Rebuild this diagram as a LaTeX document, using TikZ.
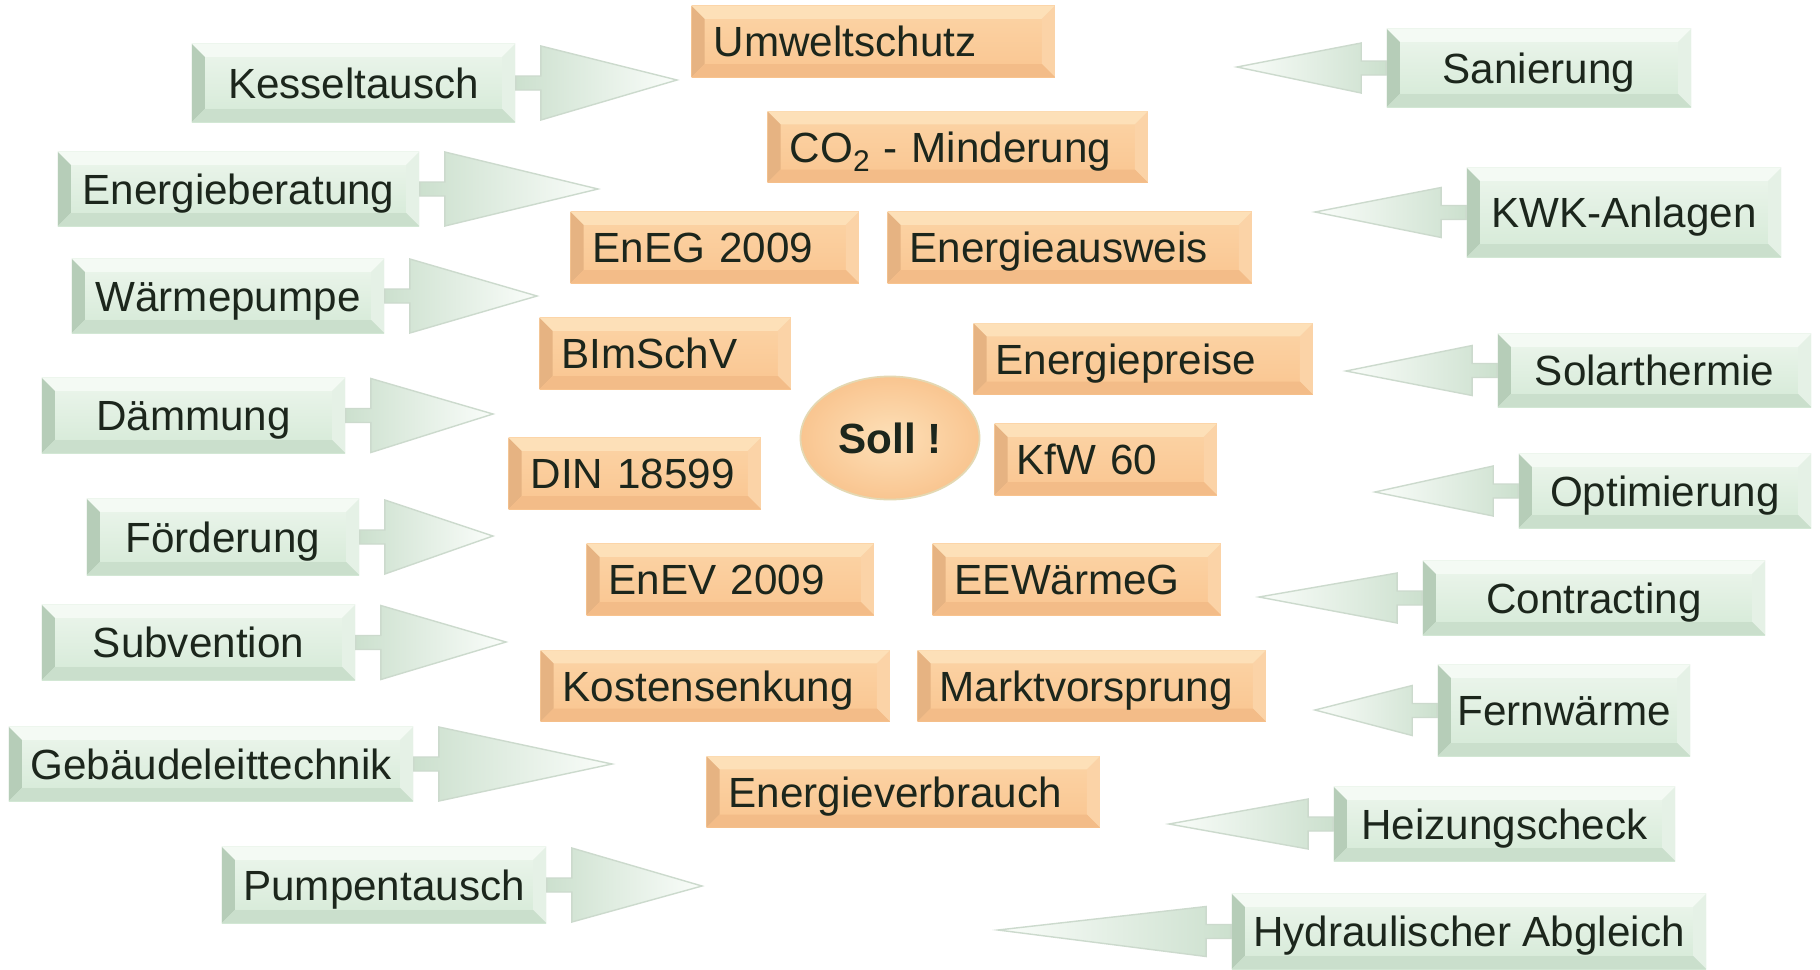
\documentclass[tikz,border=0pt]{standalone}
\usepackage{fontspec}
\setmainfont{Liberation Sans}
\usetikzlibrary{calc,shapes.geometric}
\definecolor{entext}{HTML}{1C261C}
\definecolor{enorangeface}{HTML}{FCD4A6}
\definecolor{enorange}{HTML}{F9C590}
\definecolor{enorangetop}{HTML}{FDE0B8}
\definecolor{enorangeleft}{HTML}{E6B382}
\definecolor{enorangeright}{HTML}{FBD3A7}
\definecolor{enorangebottom}{HTML}{F3BC88}
\definecolor{enorangeedge}{HTML}{E4D8B2}
\definecolor{engreenface}{HTML}{EDF6ED}
\definecolor{engreen}{HTML}{D4E9D6}
\definecolor{engreentop}{HTML}{F4FAF4}
\definecolor{engreenleft}{HTML}{B6CDB8}
\definecolor{engreenright}{HTML}{E5F1E6}
\definecolor{engreenbottom}{HTML}{CADFCC}
\definecolor{engreenedge}{HTML}{CCDACD}
\definecolor{enarrowdark}{HTML}{CCE0CE}
\definecolor{enarrowlight}{HTML}{FAFDFA}
\tikzset{
  bevel/.style n args={6}{path picture={
    \coordinate (pbsw) at (path picture bounding box.south west);
    \coordinate (pbse) at (path picture bounding box.south east);
    \coordinate (pbnw) at (path picture bounding box.north west);
    \coordinate (pbne) at (path picture bounding box.north east);
    \shade[top color=#1,bottom color=#2] (pbsw) rectangle (pbne);
    \fill[#3] (pbnw) -- (pbne) -- ([shift={(-0.13cm,-0.13cm)}]pbne) -- ([shift={(0.13cm,-0.13cm)}]pbnw) -- cycle;
    \fill[#4] (pbnw) -- (pbsw) -- ([shift={(0.13cm,0.13cm)}]pbsw) -- ([shift={(0.13cm,-0.13cm)}]pbnw) -- cycle;
    \fill[#5] (pbne) -- (pbse) -- ([shift={(-0.13cm,0.13cm)}]pbse) -- ([shift={(-0.13cm,-0.13cm)}]pbne) -- cycle;
    \fill[#6] (pbsw) -- (pbse) -- ([shift={(-0.13cm,0.13cm)}]pbse) -- ([shift={(0.13cm,0.13cm)}]pbsw) -- cycle;
  }},
  zielbox/.style={bevel={enorangeface}{enorange}{enorangetop}{enorangeleft}{enorangeright}{enorangebottom},
                  anchor=west,align=left,minimum height=0.71cm,inner xsep=0.22cm,
                  text height=0.32cm,text depth=0.02cm,text=entext,font=\fontsize{12}{14}\selectfont},
  massbox/.style={bevel={engreenface}{engreen}{engreentop}{engreenleft}{engreenright}{engreenbottom},
                  align=center,text height=0.32cm,text depth=0.02cm,text=entext,font=\fontsize{12}{14}\selectfont},
  sollbox/.style={ellipse,minimum width=1.56cm,minimum height=1.23cm,inner color=enorangetop,outer color=enorange,
                  draw=enorangeedge,line width=0.5pt,text=entext,font=\fontsize{12}{14}\selectfont\bfseries},
  chevron/.style={to path={
    let \p1=(\tikztostart), \p2=(\tikztotarget), \n1={sign(\x2-\x1)} in
    (\x1,\y1+0.07cm) -- (\x1+\n1*0.25cm,\y1+0.07cm) -- (\x1+\n1*0.25cm,\y1+#1) -- (\x2,\y2)
    -- (\x1+\n1*0.25cm,\y1-#1) -- (\x1+\n1*0.25cm,\y1-0.07cm) -- (\x1,\y1-0.07cm) -- cycle}},
  leftarrow/.style={draw=engreenedge,line width=0.4pt,left color=enarrowdark,right color=enarrowlight,chevron=0.37cm},
  rightarrow/.style={draw=engreenedge,line width=0.4pt,left color=enarrowlight,right color=enarrowdark,chevron=0.25cm}
}
\begin{document}
\begin{tikzpicture}[x=0.01cm,y=-0.01cm]
  \path[use as bounding box,fill=white] (0,0) rectangle (1820,969);

  \node[zielbox,text width=3.19cm] (umwelt) at (691,41.5) {Umweltschutz};
  \node[zielbox,text width=3.36cm] (co2) at (767,147) {CO\raisebox{-0.22em}{\fontsize{8.5}{9}\selectfont 2} - Minderung};
  \node[zielbox,text width=2.44cm] (eneg) at (570,247.5) {EnEG 2009};
  \node[zielbox,text width=3.20cm] (ausweis) at (887,247.5) {Energieausweis};
  \node[zielbox,text width=2.07cm] (bimsch) at (539,353.5) {BImSchV};
  \node[zielbox,text width=2.95cm] (preise) at (973,359) {Energiepreise};
  \node[zielbox,text width=1.78cm] (kfw) at (994,459.5) {KfW 60};
  \node[zielbox,text width=2.08cm] (din) at (508,473.5) {DIN 18599};
  \node[zielbox,text width=2.43cm] (enev) at (586,579.5) {EnEV 2009};
  \node[zielbox,text width=2.44cm] (eewg) at (932,579.5) {EEWärmeG};
  \node[zielbox,text width=3.05cm] (kosten) at (540,686) {Kostensenkung};
  \node[zielbox,text width=3.04cm] (markt) at (917,686) {Marktvorsprung};
  \node[zielbox,text width=3.49cm] (verbrauch) at (706,792) {Energieverbrauch};
  \node[sollbox] (soll) at (890,438) {Soll !};

  \node[massbox,minimum width=3.23cm,minimum height=0.78cm] (kessel) at (353.5,83) {Kesseltausch};
  \node[massbox,minimum width=3.61cm,minimum height=0.74cm] (beratung) at (238.5,189) {Energieberatung};
  \node[massbox,minimum width=3.12cm,minimum height=0.74cm] (waerme) at (228,296) {Wärmepumpe};
  \node[massbox,minimum width=3.03cm,minimum height=0.75cm] (daemm) at (193.5,415.5) {Dämmung};
  \node[massbox,minimum width=2.72cm,minimum height=0.76cm] (foerder) at (223,537) {Förderung};
  \node[massbox,minimum width=3.13cm,minimum height=0.75cm] (subv) at (198.5,642.5) {Subvention};
  \node[massbox,minimum width=4.04cm,minimum height=0.74cm] (glt) at (211,764) {Gebäudeleittechnik};
  \node[massbox,minimum width=3.24cm,minimum height=0.76cm] (pumpen) at (384,885) {Pumpentausch};

  \node[massbox,minimum width=3.04cm,minimum height=0.78cm] (sanier) at (1539,68) {Sanierung};
  \node[massbox,minimum width=3.14cm,minimum height=0.89cm] (kwk) at (1624,212.5) {KWK-Anlagen};
  \node[massbox,minimum width=3.13cm,minimum height=0.73cm] (solar) at (1654.5,370.5) {Solarthermie};
  \node[massbox,minimum width=2.92cm,minimum height=0.74cm] (optim) at (1665,491) {Optimierung};
  \node[massbox,minimum width=3.42cm,minimum height=0.74cm] (contract) at (1594,598) {Contracting};
  \node[massbox,minimum width=2.52cm,minimum height=0.91cm] (fern) at (1564,710.5) {Fernwärme};
  \node[massbox,minimum width=3.41cm,minimum height=0.74cm] (heiz) at (1504.5,824) {Heizungscheck};
  \node[massbox,minimum width=4.74cm,minimum height=0.75cm] (hydr) at (1469,931.5) {Hydraulischer Abgleich};

  \coordinate (kesseltip) at (677,80);
  \coordinate (beratungtip) at (598,189);
  \coordinate (waermetip) at (537,296);
  \coordinate (daemmtip) at (493,414);
  \coordinate (foerdertip) at (493,536);
  \coordinate (subvtip) at (506,642);
  \coordinate (glttip) at (612,764);
  \coordinate (pumpentip) at (702,886);
  \coordinate (saniertip) at (1237,67);
  \coordinate (kwktip) at (1315,212);
  \coordinate (solartip) at (1346,371);
  \coordinate (optimtip) at (1375,492);
  \coordinate (contracttip) at (1259,597);
  \coordinate (ferntip) at (1315,710);
  \coordinate (heiztip) at (1169,824);
  \coordinate (hydrtip) at (998,930);

  \path[leftarrow] (kessel.east) to (kesseltip);
  \path[leftarrow] (beratung.east) to (beratungtip);
  \path[leftarrow] (waerme.east) to (waermetip);
  \path[leftarrow] (daemm.east) to (daemmtip);
  \path[leftarrow] (foerder.east) to (foerdertip);
  \path[leftarrow] (subv.east) to (subvtip);
  \path[leftarrow] (glt.east) to (glttip);
  \path[leftarrow] (pumpen.east) to (pumpentip);
  \path[rightarrow] (sanier.west) to (saniertip);
  \path[rightarrow] (kwk.west) to (kwktip);
  \path[rightarrow] (solar.west) to (solartip);
  \path[rightarrow] (optim.west) to (optimtip);
  \path[rightarrow] (contract.west) to (contracttip);
  \path[rightarrow] (fern.west) to (ferntip);
  \path[rightarrow] (heiz.west) to (heiztip);
  \path[rightarrow] (hydr.west) to (hydrtip);
\end{tikzpicture}
\end{document}
